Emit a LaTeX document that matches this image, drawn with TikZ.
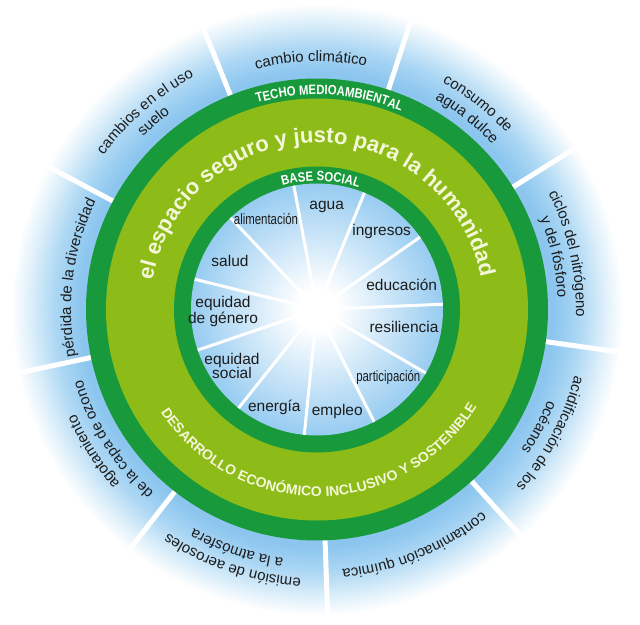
\documentclass[tikz,border=0pt]{standalone}
\usepackage{fontspec}
\usepackage{tikz}
\usetikzlibrary{decorations.text}
\setmainfont{Liberation Sans}
\newfontfamily\ringfamily[FakeStretch=0.84]{Liberation Sans}
\newfontfamily\narrowfamily[FakeStretch=0.76]{Liberation Sans}
\definecolor{ringdark}{HTML}{189A3C}
\definecolor{ringlight}{HTML}{8DBB17}
\definecolor{skyblue}{HTML}{8CC6EF}
\definecolor{skymid}{HTML}{ACD7F4}
\definecolor{skyfade}{HTML}{DDEFFA}
\definecolor{paleblue}{HTML}{97CCF1}
\definecolor{ringcream}{HTML}{F4F7D8}
\definecolor{labelink}{HTML}{1C1C1C}
\newcommand{\labeltext}{\fontsize{15.5}{14.5}\selectfont}
\newcommand{\outertext}{\fontsize{15}{16}\selectfont}
\newcommand{\narrowtext}{\narrowfamily\fontsize{15}{15}\selectfont}
\newcommand{\ringtext}{\ringfamily\bfseries\fontsize{13.5}{14}\selectfont}
\newcommand{\goaltext}{\bfseries\fontsize{14}{15}\selectfont}
\newcommand{\mottotext}{\bfseries\fontsize{22}{23}\selectfont}
\pgfdeclareradialshading{outerglow}{\pgfpoint{0bp}{0bp}}{color(0bp)=(skyblue); color(19bp)=(skyblue); color(21bp)=(skymid); color(23bp)=(skyfade); color(24.5bp)=(white); color(50bp)=(white)}
\pgfdeclareradialshading{innerglow}{\pgfpoint{0bp}{0bp}}{color(0bp)=(white); color(4bp)=(white); color(25bp)=(paleblue); color(50bp)=(paleblue)}

\begin{document}
\begin{tikzpicture}[x=1pt,y=1pt,font=\labeltext,text=labelink,
  outerspoke/.style={draw=white,line width=5pt},
  innerspoke/.style={draw=white,line width=3pt},
  arclabel/.style={decorate,decoration={text along path,text align=center,text={|\outertext\color{labelink}|#1}}},
  ringlabel/.style={decorate,decoration={text along path,text align=center,text={|\ringtext\color{white}|#1}}}]
\useasboundingbox (-317,-314.5) rectangle (323,309.5);
\fill[white] (-317,-314.5) rectangle (323,309.5);

\shade[shading=outerglow] (0,0) circle (312);
\draw[outerspoke] (112:225) -- (112:312);
\draw[outerspoke] (72:225) -- (72:312);
\draw[outerspoke] (32:225) -- (32:312);
\draw[outerspoke] (-8:225) -- (-8:312);
\draw[outerspoke] (-48:225) -- (-48:312);
\draw[outerspoke] (-88:225) -- (-88:312);
\draw[outerspoke] (-128:225) -- (-128:312);
\draw[outerspoke] (-168:225) -- (-168:312);
\draw[outerspoke] (152:225) -- (152:312);

\fill[ringdark] (0,0) circle (231);
\fill[ringlight] (0,0) circle (211);
\fill[ringdark] (0,0) circle (143);
\shade[shading=innerglow] (0,0) circle (126);

\draw[innerspoke] (0,0) -- (100.6:126);
\draw[innerspoke] (0,0) -- (67.9:126);
\draw[innerspoke] (0,0) -- (35.1:126);
\draw[innerspoke] (0,0) -- (2.4:126);
\draw[innerspoke] (0,0) -- (-30.3:126);
\draw[innerspoke] (0,0) -- (-63.0:126);
\draw[innerspoke] (0,0) -- (-95.8:126);
\draw[innerspoke] (0,0) -- (-128.5:126);
\draw[innerspoke] (0,0) -- (-161.2:126);
\draw[innerspoke] (0,0) -- (166.1:126);
\draw[innerspoke] (0,0) -- (133.3:126);

\path[arclabel={cambio climático}] (131.4:248) arc[start angle=131.4,end angle=51.4,radius=248];
\path[arclabel={consumo de}] (92:259) arc[start angle=92,end angle=12,radius=259];
\path[arclabel={agua dulce}] (92:241) arc[start angle=92,end angle=12,radius=241];
\path[arclabel={ciclos del nitrógeno}] (52.5:259) arc[start angle=52.5,end angle=-27.5,radius=259];
\path[arclabel={y del fósforo}] (52.5:241) arc[start angle=52.5,end angle=-27.5,radius=241];
\path[arclabel={acidificación de los}] (12:266) arc[start angle=12,end angle=-68,radius=266];
\path[arclabel={océanos}] (12:248) arc[start angle=12,end angle=-68,radius=248];
\path[arclabel={contaminación química}] (-27.6:261) arc[start angle=-27.6,end angle=-107.6,radius=261];
\path[arclabel={emisión de aerosoles}] (-68.5:269) arc[start angle=-68.5,end angle=-148.5,radius=269];
\path[arclabel={a la atmósfera}] (-68.5:251) arc[start angle=-68.5,end angle=-148.5,radius=251];
\path[arclabel={agotamiento}] (-107.5:263) arc[start angle=-107.5,end angle=-187.5,radius=263];
\path[arclabel={de la capa de ozono}] (-107.5:245) arc[start angle=-107.5,end angle=-187.5,radius=245];
\path[arclabel={pérdida de la diversidad}] (212.5:246) arc[start angle=212.5,end angle=132.5,radius=246];
\path[arclabel={cambios en el uso}] (171:263) arc[start angle=171,end angle=91,radius=263];
\path[arclabel={suelo}] (171:245) arc[start angle=171,end angle=91,radius=245];

\path[ringlabel={TECHO MEDIOAMBIENTAL}] (146.6:215) arc[start angle=146.6,end angle=26.6,radius=215];
\path[ringlabel={BASE SOCIAL}] (148.4:128.5) arc[start angle=148.4,end angle=28.4,radius=128.5];
\path[decorate,decoration={text along path,text align=center,text={|\mottotext\color{ringcream}|el espacio seguro y justo para la humanidad}}] (185.5:167) arc[start angle=185.5,end angle=-4.5,radius=167];
\path[decorate,decoration={text along path,text align=center,text={|\goaltext\color{ringcream}|DESARROLLO ECONÓMICO INCLUSIVO Y SOSTENIBLE}}] (-174:187) arc[start angle=-174,end angle=-4,radius=187];

\node (agua) at (9.7,102.8) {agua};
\node (ingresos) at (64.7,77.8) {ingresos};
\node (educacion) at (84.7,24.5) {educación};
\node (resiliencia) at (87,-17.2) {resiliencia};
\node[font=\narrowtext] (participacion) at (71.3,-67.8) {participación};
\node (empleo) at (20.3,-102.2) {empleo};
\node (energia) at (-42.7,-97.8) {energía};
\node[align=center] (eqsocial) at (-85,-56.5) {equidad\\social};
\node[align=center] (eqgenero) at (-94,-2.2) {equidad\\de género};
\node (salud) at (-87,48.8) {salud};
\node[font=\narrowtext] (alimentacion) at (-51,90.5) {alimentación};
\end{tikzpicture}
\end{document}
